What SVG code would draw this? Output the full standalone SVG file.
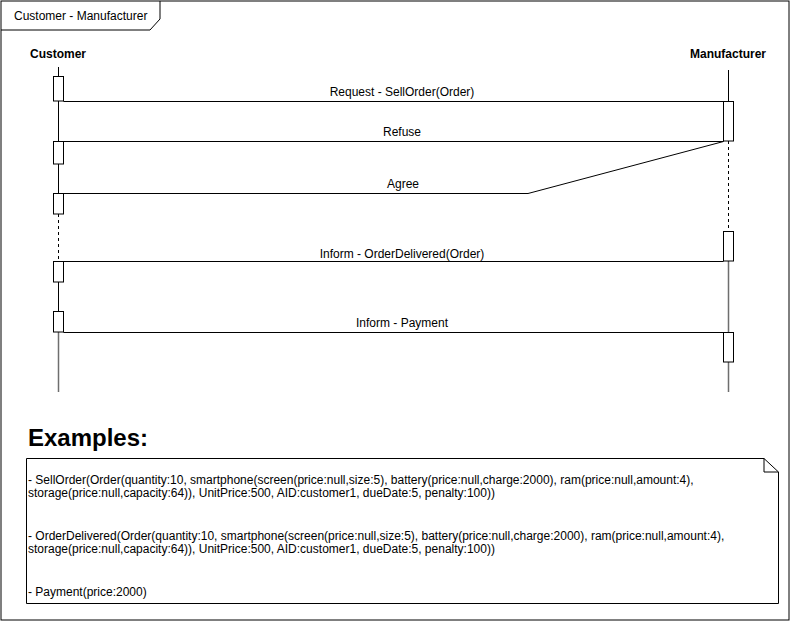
<svg xmlns="http://www.w3.org/2000/svg" width="791" height="622" viewBox="0 0 791 622">
<style>
.ln{stroke:#000;stroke-width:1;fill:none}
.dash{stroke:#000;stroke-width:1;fill:none;stroke-dasharray:3,3}
.gray{stroke:#6e6e6e;stroke-width:1.5;fill:none}
.act{fill:#fff;stroke:#000;stroke-width:1}
.t{font-family:"Liberation Sans",Arial,sans-serif;font-size:12px;fill:#000}
.b{font-weight:bold}
.m{text-anchor:middle}
</style>
<rect width="791" height="622" fill="#fff"/>
<g id="frame">
<rect x="1" y="1" width="788" height="619" class="ln"/>
<path d="M1 30 H150 L160 19 V1" class="ln"/>
<text x="14" y="20" class="t">Customer - Manufacturer</text>
</g>
<g id="customer">
<text x="58" y="58" class="t b m">Customer</text>
<path d="M58.5 67 V76 M58.5 101 V141 M58.5 164 V193 M58.5 282 V311" class="ln"/>
<path d="M58.5 214 V261" class="dash"/>
<path d="M58.5 332 V392" class="gray"/>
<rect x="53.5" y="76.5" width="10" height="24.5" class="act"/>
<rect x="53.5" y="141.5" width="10" height="22.5" class="act"/>
<rect x="53.5" y="193.5" width="10" height="20.5" class="act"/>
<rect x="53.5" y="261.5" width="10" height="20.5" class="act"/>
<rect x="53.5" y="311.5" width="10" height="20.5" class="act"/>
</g>
<g id="manufacturer">
<text x="728" y="58" class="t b m">Manufacturer</text>
<path d="M728.5 70 V101" class="ln"/>
<path d="M728.5 141 V231" class="dash"/>
<path d="M728.5 261 V332 M728.5 362 V392" class="gray"/>
<rect x="723.5" y="101.5" width="10" height="39.5" class="act"/>
<rect x="723.5" y="231.5" width="10" height="29.5" class="act"/>
<rect x="723.5" y="332.5" width="10" height="29.5" class="act"/>
</g>
<g id="connectors">
<path d="M63.5 101.5 H723.5" class="ln"/>
<path d="M723.5 141.5 H63.5" class="ln"/>
<path d="M723.5 141.5 L528 193.5 H63.5" class="ln"/>
<path d="M723.5 261.5 H63.5" class="ln"/>
<path d="M63.5 332.5 H723.5" class="ln"/>
<text x="402" y="96" class="t m">Request - SellOrder(Order)</text>
<text x="402" y="136" class="t m">Refuse</text>
<text x="403" y="188" class="t m">Agree</text>
<text x="402" y="258" class="t m">Inform - OrderDelivered(Order)</text>
<text x="402" y="327" class="t m">Inform - Payment</text>
</g>
<g id="examples">
<text x="28" y="446" class="t b" style="font-size:24px">Examples:</text>
<path d="M26.5 458.5 H764 L778.5 472 V603.5 H26.5 Z M764 458.5 V472 H778.5" class="ln"/>
<text class="t" x="28" y="484">- SellOrder(Order(quantity:10, smartphone(screen(price:null,size:5), battery(price:null,charge:2000), ram(price:null,amount:4),</text>
<text class="t" x="28" y="497">storage(price:null,capacity:64)), UnitPrice:500, AID:customer1, dueDate:5, penalty:100))</text>
<text class="t" x="28" y="540">- OrderDelivered(Order(quantity:10, smartphone(screen(price:null,size:5), battery(price:null,charge:2000), ram(price:null,amount:4),</text>
<text class="t" x="28" y="553">storage(price:null,capacity:64)), UnitPrice:500, AID:customer1, dueDate:5, penalty:100))</text>
<text class="t" x="28" y="596">- Payment(price:2000)</text>
</g>
</svg>
